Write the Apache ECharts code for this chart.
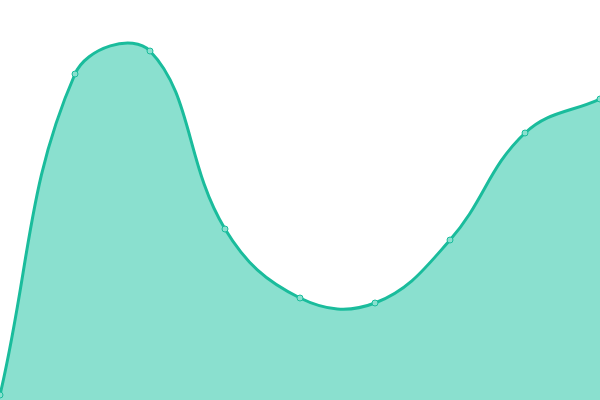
<!DOCTYPE html>
<html><head><meta charset="utf-8">
<script src="https://cdn.jsdelivr.net/npm/echarts@6/dist/echarts.min.js"></script>
<style>html,body{margin:0;padding:0;background:#fff}#c{width:600px;height:400px}</style>
</head><body><div id="c"></div>
<script>
const categories = ['A','B','C','D','E','F','G','H','I'];
const values = [5, 326, 349, 171, 102, 97, 160, 267, 301];
const TENSION = 0.4;

function controlPoints(prev, cur, next, t) {
  const d01 = Math.hypot(cur[0] - prev[0], cur[1] - prev[1]);
  const d12 = Math.hypot(next[0] - cur[0], next[1] - cur[1]);
  let s01 = d01 / (d01 + d12), s12 = d12 / (d01 + d12);
  if (isNaN(s01)) s01 = 0;
  if (isNaN(s12)) s12 = 0;
  const fa = t * s01, fb = t * s12;
  return {
    p: [cur[0] - fa * (next[0] - prev[0]), cur[1] - fa * (next[1] - prev[1])],
    n: [cur[0] + fb * (next[0] - prev[0]), cur[1] + fb * (next[1] - prev[1])]
  };
}

function renderCurve(params, api) {
  if (params.dataIndex !== 0) return null;
  const cs = params.coordSys;
  const clampX = v => Math.max(cs.x, Math.min(cs.x + cs.width, v));
  const clampY = v => Math.max(cs.y, Math.min(cs.y + cs.height, v));
  const pts = values.map((v, i) => api.coord([i, v]));
  const n = pts.length;
  const cp = pts.map((p, i) => {
    const c = controlPoints(pts[Math.max(0, i - 1)], p, pts[Math.min(n - 1, i + 1)], TENSION);
    return {p: [clampX(c.p[0]), clampY(c.p[1])], n: [clampX(c.n[0]), clampY(c.n[1])]};
  });
  let d = 'M' + pts[0][0] + ' ' + pts[0][1];
  for (let i = 1; i < n; i++) {
    d += ' C' + cp[i - 1].n[0] + ' ' + cp[i - 1].n[1] + ' ' + cp[i].p[0] + ' ' + cp[i].p[1] + ' ' + pts[i][0] + ' ' + pts[i][1];
  }
  const base = api.coord([0, 0])[1];
  const area = d + ' L' + pts[n - 1][0] + ' ' + base + ' L' + pts[0][0] + ' ' + base + ' Z';
  return {
    type: 'group',
    children: [
      {type: 'path', shape: {pathData: area}, style: {fill: '#8ae0cf', stroke: null}},
      {type: 'path', shape: {pathData: d}, style: {fill: null, stroke: '#1abc9c', lineWidth: 3}}
    ]
  };
}

const chart = echarts.init(document.getElementById('c'));
chart.setOption({
  animation: false,
  grid: {left: 0, right: 0, top: 0, bottom: 0},
  xAxis: {type: 'category', data: categories, boundaryGap: false, show: false},
  yAxis: {type: 'value', min: 0, max: 400, show: false},
  series: [{
    type: 'custom',
    data: values.map((v, i) => [i, v]),
    renderItem: renderCurve,
    clip: false,
    z: 1
  }, {
    type: 'scatter',
    data: values,
    symbol: 'circle',
    symbolSize: 6,
    itemStyle: {color: '#8ae0cf', borderColor: '#1abc9c', borderWidth: 1, opacity: 1},
    z: 3
  }]
});
</script></body></html>
